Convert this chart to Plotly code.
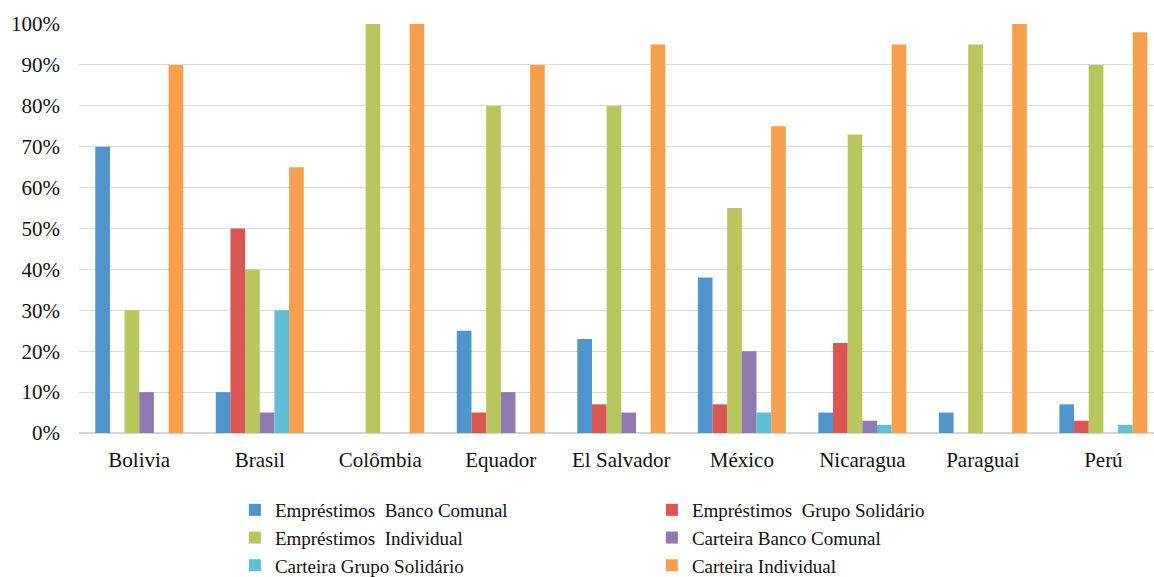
import plotly.graph_objects as go

paises = ["Bolivia", "Brasil", "Colômbia", "Equador", "El Salvador",
          "México", "Nicaragua", "Paraguai", "Perú"]

emprestimos_banco_comunal = [70, 10, 0, 25, 23, 38, 5, 5, 7]
emprestimos_grupo_solidario = [0, 50, 0, 5, 7, 7, 22, 0, 3]
emprestimos_individual = [30, 40, 100, 80, 80, 55, 73, 95, 90]
carteira_banco_comunal = [10, 5, 0, 10, 5, 20, 3, 0, 0]
carteira_grupo_solidario = [0, 30, 0, 0, 0, 5, 2, 0, 2]
carteira_individual = [90, 65, 100, 90, 95, 75, 95, 100, 98]

series = [
    ("Empréstimos\u00a0 Banco Comunal", emprestimos_banco_comunal, "#4F95CC"),
    ("Empréstimos\u00a0 Grupo Solidário", emprestimos_grupo_solidario, "#D95652"),
    ("Empréstimos\u00a0 Individual", emprestimos_individual, "#B8C65D"),
    ("Carteira Banco Comunal", carteira_banco_comunal, "#8E79B1"),
    ("Carteira Grupo Solidário", carteira_grupo_solidario, "#5FBED3"),
    ("Carteira Individual", carteira_individual, "#F6A04D"),
]

fig = go.Figure()
for nome, valores, cor in series:
    fig.add_trace(go.Bar(
        x=paises,
        y=[v / 100 for v in valores],
        name=nome,
        marker=dict(color=cor, line=dict(width=0)),
    ))

fonte = "Liberation Serif"

fig.update_layout(
    width=1154,
    height=577,
    margin=dict(l=79, r=0, t=24, b=144),
    paper_bgcolor="white",
    plot_bgcolor="white",
    barmode="group",
    bargap=0.27,
    bargroupgap=0,
    font=dict(family=fonte, size=21, color="#111111"),
    showlegend=True,
    legend=dict(
        orientation="h",
        x=0.145,
        xanchor="left",
        yref="container",
        y=(577 - 491) / 577,
        yanchor="top",
        entrywidth=372,
        traceorder="normal",
        font=dict(family=fonte, size=19, color="#111111"),
        itemwidth=30,
        tracegroupgap=0,
    ),
    xaxis=dict(
        range=[-0.5, 8.42],
        showgrid=False,
        showline=False,
        ticks="",
        tickfont=dict(family=fonte, size=21, color="#111111"),
        ticklabelstandoff=12,
    ),
    yaxis=dict(
        range=[0, 1.0],
        tickvals=[i / 10 for i in range(11)],
        tickformat=".0%",
        showgrid=True,
        gridcolor="#DCDCDC",
        gridwidth=1,
        zeroline=True,
        zerolinecolor="#D4D4D4",
        zerolinewidth=1.5,
        showline=False,
        ticks="",
        tickfont=dict(family=fonte, size=21, color="#111111"),
        ticklabelstandoff=18,
    ),
)

fig.write_html("out.html")
